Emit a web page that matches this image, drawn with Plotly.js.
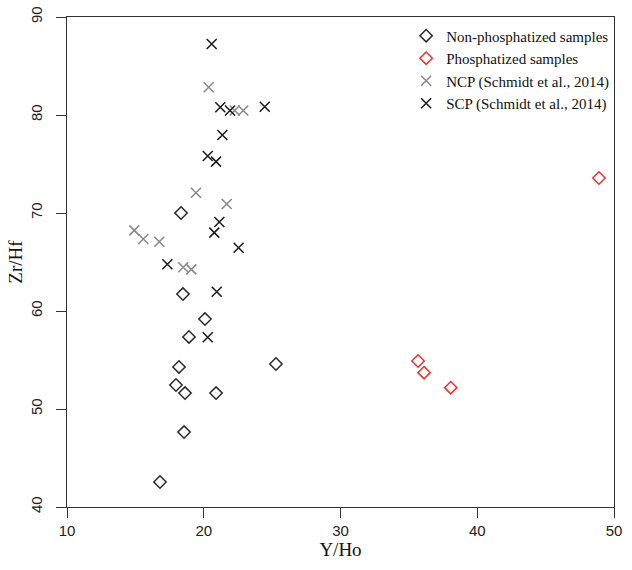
<!DOCTYPE html>
<html>
<head>
<meta charset="utf-8">
<script src="https://cdn.plot.ly/plotly-3.0.1.min.js"></script>
<style>html,body{margin:0;padding:0;background:#fff;}#chart{width:632px;height:570px;}</style>
</head>
<body>
<div id="chart"></div>
<script>
// Non-phosphatized samples
const nonPhosX = [18.34, 18.48, 18.92, 20.09, 18.19, 17.97, 18.63, 20.90, 25.28, 18.56, 16.80];
const nonPhosY = [70.0, 61.73, 57.35, 59.18, 54.29, 52.45, 51.63, 51.63, 54.59, 47.65, 42.55];
// Phosphatized samples
const phosX = [48.90, 35.67, 36.11, 38.06];
const phosY = [73.57, 54.90, 53.71, 52.18];
// NCP (Schmidt et al., 2014)
const ncpX = [20.36, 22.26, 22.89, 19.43, 21.68, 14.92, 15.58, 16.75, 18.50, 19.09];
const ncpY = [82.83, 80.45, 80.45, 72.07, 70.92, 68.23, 67.35, 67.07, 64.46, 64.25];
// SCP (Schmidt et al., 2014)
const scpX = [20.58, 21.21, 21.92, 24.46, 21.36, 20.29, 20.90, 21.14, 20.77, 22.55, 17.34, 20.95, 20.29];
const scpY = [87.24, 80.79, 80.45, 80.85, 77.96, 75.82, 75.24, 69.08, 68.00, 66.46, 64.77, 61.97, 57.33];

const xTicks = [10, 20, 30, 40, 50];
const yTicks = [40, 50, 60, 70, 80, 90];

const traces = [
  {x: nonPhosX, y: nonPhosY, name: 'Non-phosphatized samples', type: 'scatter', mode: 'markers',
   marker: {symbol: 'diamond-open', size: 9.5, color: '#2a2a2a', line: {width: 1.5, color: '#2a2a2a'}}},
  {x: phosX, y: phosY, name: 'Phosphatized samples', type: 'scatter', mode: 'markers',
   marker: {symbol: 'diamond-open', size: 9.5, color: '#f03030', line: {width: 1.5, color: '#f03030'}}},
  {x: ncpX, y: ncpY, name: 'NCP (Schmidt et al., 2014)', type: 'scatter', mode: 'markers',
   marker: {symbol: 'x-thin-open', size: 10, color: '#888888', line: {width: 1.5, color: '#888888'}}},
  {x: scpX, y: scpY, name: 'SCP (Schmidt et al., 2014)', type: 'scatter', mode: 'markers',
   marker: {symbol: 'x-thin-open', size: 10, color: '#1a1a1a', line: {width: 1.5, color: '#1a1a1a'}}}
];

const layout = {
  width: 632, height: 570,
  margin: {l: 67, r: 18, t: 17, b: 63},
  paper_bgcolor: '#fff', plot_bgcolor: '#fff',
  showlegend: true,
  legend: {x: 0.62, y: 0.995, xanchor: 'left', yanchor: 'top', bgcolor: 'rgba(0,0,0,0)',
           font: {family: 'Liberation Serif, Times New Roman, serif', size: 15, color: '#111'},
           itemwidth: 30, tracegroupgap: 0},
  xaxis: {range: [10, 50], tickvals: xTicks, ticktext: xTicks.map(String),
          showgrid: false, zeroline: false, showline: true, mirror: true, linecolor: '#333', linewidth: 1,
          ticks: 'outside', ticklen: 10, tickwidth: 1, tickcolor: '#333',
          tickfont: {family: 'Liberation Sans, Arial, sans-serif', size: 15, color: '#222'},
          title: {text: 'Y/Ho', standoff: 3, font: {family: 'Liberation Serif, Times New Roman, serif', size: 19, color: '#111'}}},
  yaxis: {range: [40, 90], tickvals: yTicks, ticktext: yTicks.map(String), tickangle: -90,
          ticklabelstandoff: 8,
          showgrid: false, zeroline: false, showline: true, mirror: true, linecolor: '#333', linewidth: 1,
          ticks: 'outside', ticklen: 10, tickwidth: 1, tickcolor: '#333',
          tickfont: {family: 'Liberation Sans, Arial, sans-serif', size: 15, color: '#222'},
          title: {text: 'Zr/Hf', standoff: 0, font: {family: 'Liberation Serif, Times New Roman, serif', size: 19, color: '#111'}}}
};

Plotly.newPlot('chart', traces, layout, {displayModeBar: false, staticPlot: true});
</script>
</body>
</html>
